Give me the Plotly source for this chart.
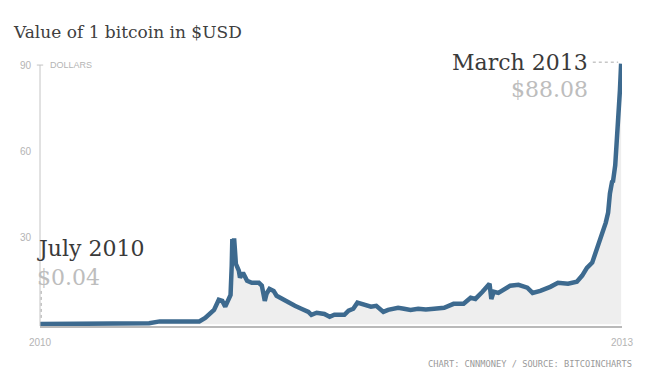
import plotly.graph_objects as go

# ---- data ----
dates = [
    "2010-07-17", "2010-08-08", "2010-09-02", "2010-09-27", "2010-10-26", "2010-11-22",
    "2010-12-21", "2011-01-18", "2011-02-05", "2011-02-26", "2011-03-24", "2011-04-13",
    "2011-04-23", "2011-05-01", "2011-05-08", "2011-05-16", "2011-05-22", "2011-05-27",
    "2011-06-01", "2011-06-05", "2011-06-07", "2011-06-08", "2011-06-10", "2011-06-11",
    "2011-06-12", "2011-06-14", "2011-06-16",
    "2011-06-19", "2011-06-21", "2011-06-26", "2011-07-03", "2011-07-11", "2011-07-23",
    "2011-07-28", "2011-08-02", "2011-08-05", "2011-08-10", "2011-08-17", "2011-08-22",
    "2011-08-31", "2011-09-12", "2011-09-22", "2011-10-03", "2011-10-15", "2011-10-20",
    "2011-10-29", "2011-11-11", "2011-11-20", "2011-11-28", "2011-12-15", "2011-12-22",
    "2011-12-30", "2012-01-06", "2012-01-13", "2012-01-21", "2012-01-29", "2012-02-07",
    "2012-02-12", "2012-02-19", "2012-02-27", "2012-03-15", "2012-03-25", "2012-04-05",
    "2012-04-18", "2012-05-01", "2012-05-15", "2012-06-01", "2012-06-17", "2012-07-04",
    "2012-07-16", "2012-07-24",
    "2012-08-05", "2012-08-14", "2012-08-17", "2012-08-20", "2012-08-24", "2012-09-01",
    "2012-09-21", "2012-10-05", "2012-10-20", "2012-10-29", "2012-11-11", "2012-11-28",
    "2012-12-11", "2012-12-28", "2013-01-12", "2013-01-21", "2013-01-29", "2013-02-07",
    "2013-02-12", "2013-02-20", "2013-02-25", "2013-03-02", "2013-03-06", "2013-03-09",
    "2013-03-13", "2013-03-14", "2013-03-18", "2013-03-21", "2013-03-23", "2013-03-25",
    "2013-03-26", "2013-03-28",
]
prices = [
    0.06, 0.07, 0.10, 0.06, 0.40, 0.25,
    0.25, 0.35, 1.0, 1.0, 0.9, 1.0,
    2.2, 3.6, 5.0, 8.5, 8.1, 6.1,
    8.5, 10.2, 20.5, 29.6, 24.0, 29.8,
    27.0, 21.0, 20.3,
    18.6, 16.2, 17.9, 15.1, 14.4, 14.4,
    13.4, 8.1, 10.6, 12.3, 11.6, 9.9,
    8.8, 7.5, 6.4, 5.4, 4.3, 3.3,
    4.0, 3.6, 2.6, 3.3, 3.3, 4.7,
    5.4, 7.5, 7.1, 6.8, 6.1, 6.4,
    5.7, 4.3, 5.0, 5.7, 5.4, 5.0,
    5.4, 5.1, 5.4, 5.7, 7.1, 7.1,
    9.2, 8.8,
    11.3, 13.7, 14.1, 8.8, 11.3, 10.9,
    13.4, 13.7, 12.7, 10.9, 11.6, 13.0,
    14.4, 14.1, 14.8, 16.9, 19.6, 21.4,
    24.5, 29.0, 31.8, 35.3, 38.8, 45.4,
    49.9, 49.2, 55.2, 63.9, 72.6, 73.6,
    81.3, 90.5,
]
y_ticks = [30, 60, 90]
y_ticklabels = ["30", "60", "90"]
x_range = ["2010-07-17", "2013-03-29 12:00"]
x_ticklabels = ["2010", "2013"]

start_label, start_value = "July 2010", "$0.04"
end_label, end_value = "March 2013", "$88.08"

LINE = "#3d6a8f"
GRAY_TXT = "#b4b4b4"
SERIF = "DejaVu Serif"
SANS = "Liberation Sans, Arial, sans-serif"

fig = go.Figure()
fig.add_trace(go.Scatter(
    x=dates, y=prices, mode="lines",
    line=dict(color=LINE, width=4.5),
    fill="tozeroy", fillcolor="#eeeeee",
    hoverinfo="x+y", showlegend=False,
))

# the page adds an 8px body margin, so the figure is 640x372 and sits at (8, 8)
fig.update_layout(
    width=640, height=372,
    margin=dict(l=29, r=26, t=51, b=54),
    paper_bgcolor="white", plot_bgcolor="white",
    title=dict(
        text="Value of 1 bitcoin in $USD",
        font=dict(family=SERIF, size=17, color="#404040"),
        x=6 / 640, xanchor="left", xref="container",
        y=1 - 24 / 372, yanchor="middle", yref="container",
    ),
    xaxis=dict(
        type="date", range=x_range,
        tickvals=x_range, ticktext=x_ticklabels,
        showgrid=False, zeroline=False,
        showline=True, linecolor="#b9b9b9", linewidth=2,
        ticks="", ticklabelstandoff=6,
        tickfont=dict(family=SANS, size=10, color=GRAY_TXT),
    ),
    yaxis=dict(
        range=[-0.6, 92.1],
        tickvals=y_ticks, ticktext=y_ticklabels,
        showgrid=False, zeroline=False, showline=False,
        ticks="", ticklabelstandoff=8,
        tickfont=dict(family=SANS, size=10, color=GRAY_TXT),
    ),
)

# left axis line and the tick at the top value
fig.add_shape(type="line", xref="paper", yref="y", x0=0, x1=0, y0=-0.6, y1=y_ticks[-1],
              line=dict(color="#c4c4c4", width=1))
fig.add_shape(type="line", xref="paper", yref="y", x0=-0.0055, x1=0.0055,
              y0=y_ticks[-1], y1=y_ticks[-1], line=dict(color="#c4c4c4", width=1))
fig.add_annotation(text="DOLLARS", xref="paper", yref="y", x=0.0145, y=y_ticks[-1],
                   xanchor="left", yanchor="middle", showarrow=False,
                   font=dict(family=SANS, size=9, color=GRAY_TXT))

# callouts
fig.add_annotation(text=end_label, xref="paper", yref="paper", x=0.9455, y=0.987,
                   xanchor="right", yanchor="middle", showarrow=False,
                   font=dict(family=SERIF, size=22, color="#3a3a3a"))
fig.add_annotation(text=end_value, xref="paper", yref="paper", x=0.9455, y=0.884,
                   xanchor="right", yanchor="middle", showarrow=False,
                   font=dict(family=SERIF, size=22, color="#bdbdbd"))
fig.add_annotation(text=start_label, xref="paper", yref="paper", x=-0.008, y=0.290,
                   xanchor="left", yanchor="middle", showarrow=False,
                   font=dict(family=SERIF, size=22, color="#3a3a3a"))
fig.add_annotation(text=start_value, xref="paper", yref="paper", x=-0.008, y=0.1835,
                   xanchor="left", yanchor="middle", showarrow=False,
                   font=dict(family=SERIF, size=22, color="#bdbdbd"))

# dotted leader lines
fig.add_shape(type="line", xref="x", yref="y", x0="2013-02-08", x1="2013-03-23",
              y0=91.0, y1=91.0, line=dict(color="#aaaaaa", width=1, dash="dot"))
fig.add_shape(type="line", xref="x", yref="y", x0="2010-07-19", x1="2010-07-19",
              y0=2.2, y1=11.6, line=dict(color="#aaaaaa", width=1, dash="dot"))

# source line
fig.add_annotation(text="CHART: CNNMONEY / SOURCE: BITCOINCHARTS",
                   xref="paper", yref="paper", x=(634 - 37) / 585, y=(326 - 364) / 267,
                   xanchor="right", yanchor="middle", showarrow=False,
                   font=dict(family="DejaVu Sans Mono", size=8.7, color="#9a9a9a"))

fig.write_html("out.html")
